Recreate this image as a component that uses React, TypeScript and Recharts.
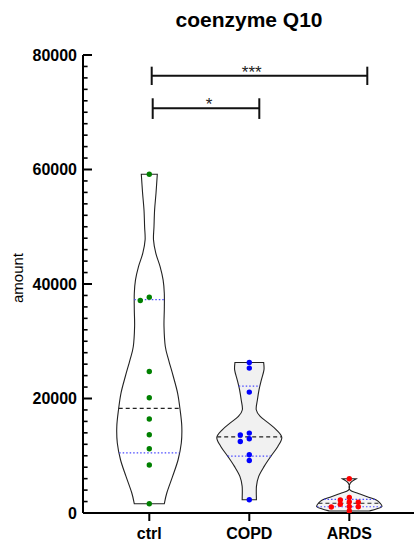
import React from 'react';
import { ComposedChart, Scatter, XAxis, YAxis, ReferenceLine } from 'recharts';

// ---------- data ----------
const groups = ['ctrl', 'COPD', 'ARDS'];
const groupColors = ['#008000', '#0000ff', '#ff0000'];
const violinFills = ['#ffffff', '#f1f1f1', '#f4f4f4'];

const ctrlValues = [59170, 37700, 37110, 24720, 20130, 16410, 13670, 11220, 8380, 1620];
const copdValues = [26290, 25310, 21120, 13960, 13620, 12970, 12500, 10180, 9180, 2320];
const ardsValues = [5990, 2720, 2270, 1950, 1880, 1520, 1150, 1100, 1050, 350];

// violin density profiles (levels ascending, relative density at each level)
const ctrlProfileLevels = [1620, 3490, 6390, 9300, 12220, 15120, 18030, 20950, 23840, 26760, 29080, 32570, 35490, 38400, 40720, 43050, 45380, 47710, 50030, 52940, 55860, 59170];
const ctrlProfileDensity = [15, 17.5, 23.3, 28.8, 32, 32.5, 30.8, 28.3, 24, 19.3, 16, 14.7, 15, 15, 13.8, 10.8, 6.5, 4.2, 4.7, 5.3, 6.7, 8];
const copdProfileLevels = [2320, 4650, 6390, 8140, 9890, 11630, 13200, 14540, 15700, 16870, 18030, 19780, 21520, 23270, 25010, 26290];
const copdProfileDensity = [7.2, 7.2, 9.5, 15, 21.7, 28.8, 32.8, 27.3, 19.5, 11, 7, 8.2, 9.8, 12.2, 14.8, 14.5];
const ardsProfileLevels = [350, 700, 1100, 1680, 2270, 2850, 3420, 4010, 5170, 5990];
const ardsProfileDensity = [20, 27, 32.5, 31, 27, 18, 9, 0.8, 0.8, 7];

const yTicks = [0, 20000, 40000, 60000, 80000];
const yMinorStep = 2000;
const yMax = 80000;

const comparisons = [
  { label: '***', x1: 1.024, x2: 3.18, y: 76390, capLow: 74760, capHigh: 77960, labelX: 2.024 },
  { label: '*', x1: 1.034, x2: 2.1, y: 70700, capLow: 68830, capHigh: 72440, labelX: 1.597 },
];

// ---------- layout constants ----------
const FONT = '"Liberation Sans", Arial, Helvetica, sans-serif';
const X_DOMAIN: [number, number] = [0.337, 3.647];
const HALF_WIDTH = 0.325; // max violin half width, in category units
const DOT_STEP = 0.09; // horizontal step between dot columns, category units
const DOT_GAP = 650; // min vertical separation in a column, value units

const groupValues = [ctrlValues, copdValues, ardsValues];
const profiles = [
  { levels: ctrlProfileLevels, density: ctrlProfileDensity },
  { levels: copdProfileLevels, density: copdProfileDensity },
  { levels: ardsProfileLevels, density: ardsProfileDensity },
];

function quantile(vals: number[], p: number) {
  const s = [...vals].sort((a, b) => a - b);
  const pos = (s.length + 1) * p;
  const lo = Math.floor(pos);
  const frac = pos - lo;
  if (lo < 1) return s[0];
  if (lo >= s.length) return s[s.length - 1];
  return s[lo - 1] + frac * (s[lo] - s[lo - 1]);
}

function widthAt(profile: { levels: number[]; density: number[] }, v: number) {
  const { levels, density } = profile;
  const max = Math.max(...density);
  if (v <= levels[0]) return (density[0] / max) * HALF_WIDTH;
  for (let i = 0; i < levels.length - 1; i++) {
    if (v >= levels[i] && v <= levels[i + 1]) {
      const t = (v - levels[i]) / (levels[i + 1] - levels[i]);
      return ((density[i] + t * (density[i + 1] - density[i])) / max) * HALF_WIDTH;
    }
  }
  return (density[density.length - 1] / max) * HALF_WIDTH;
}

function violinOutline(profile: { levels: number[]; density: number[] }, center: number) {
  const max = Math.max(...profile.density);
  const right = profile.levels.map((v, i) => ({ x: center + (profile.density[i] / max) * HALF_WIDTH, y: v }));
  const left = profile.levels
    .map((v, i) => ({ x: center - (profile.density[i] / max) * HALF_WIDTH, y: v }))
    .reverse();
  return [...right, ...left];
}

function swarm(values: number[], center: number) {
  const sorted = [...values].sort((a, b) => b - a);
  const placed: { v: number; k: number }[] = [];
  const order = [0, -1, 1, -2, 2, -3, 3];
  return sorted.map((v) => {
    let k = 0;
    for (const c of order) {
      if (!placed.some((p) => p.k === c && Math.abs(p.v - v) < DOT_GAP)) {
        k = c;
        break;
      }
    }
    placed.push({ v, k });
    return { x: center + k * DOT_STEP, y: v };
  });
}

type Pt = { x: number; y: number };
function smooth(pts: Pt[]) {
  let d = '';
  for (let i = 0; i < pts.length - 1; i++) {
    const p0 = pts[Math.max(i - 1, 0)];
    const p1 = pts[i];
    const p2 = pts[i + 1];
    const p3 = pts[Math.min(i + 2, pts.length - 1)];
    const c1x = p1.x + (p2.x - p0.x) / 6;
    const c1y = p1.y + (p2.y - p0.y) / 6;
    const c2x = p2.x - (p3.x - p1.x) / 6;
    const c2y = p2.y - (p3.y - p1.y) / 6;
    d += ` C${c1x},${c1y} ${c2x},${c2y} ${p2.x},${p2.y}`;
  }
  return d;
}

function violinPath(fill: string) {
  return (props: any) => {
    const pts: Pt[] = props.points || [];
    if (pts.length < 4) return <g />;
    const n = pts.length / 2;
    const right = pts.slice(0, n);
    const left = pts.slice(n);
    const d = `M${right[0].x},${right[0].y}` + smooth(right) + ` L${left[0].x},${left[0].y}` + smooth(left) + ' Z';
    return <path d={d} fill={fill} stroke="#222" strokeWidth={1.1} />;
  };
}

const noShape = () => <g />;

export default function App() {
  const minorTicks: number[] = [];
  for (let v = yMinorStep; v < yMax; v += yMinorStep) if (!yTicks.includes(v)) minorTicks.push(v);

  const statLines: { key: string; data: Pt[]; kind: 'median' | 'quart' }[] = [];
  groups.forEach((g, i) => {
    const vals = groupValues[i];
    const center = i + 1;
    [
      { p: 0.25, kind: 'quart' as const },
      { p: 0.5, kind: 'median' as const },
      { p: 0.75, kind: 'quart' as const },
    ].forEach(({ p, kind }) => {
      const v = quantile(vals, p);
      const hw = widthAt(profiles[i], v);
      statLines.push({ key: `${g}-${p}`, kind, data: [{ x: center - hw, y: v }, { x: center + hw, y: v }] });
    });
  });

  return (
    <div style={{ position: 'absolute', left: 0, top: 0, width: 414, height: 544, background: '#fff' }}>
      <ComposedChart width={414} height={544} margin={{ top: 55, right: 0, bottom: 0, left: 0 }}>
        <XAxis
          type="number"
          dataKey="x"
          domain={X_DOMAIN}
          ticks={[1, 2, 3]}
          interval={0}
          allowDataOverflow
          tickFormatter={(v: number) => groups[Math.round(v) - 1]}
          axisLine={{ stroke: '#000', strokeWidth: 2 }}
          tickLine={{ stroke: '#000', strokeWidth: 2 }}
          tickSize={8}
          tickMargin={7}
          height={31}
          tick={{ fill: '#000', fontSize: 16, fontWeight: 'bold', fontFamily: FONT }}
        />
        <YAxis
          type="number"
          dataKey="y"
          domain={[0, yMax]}
          ticks={yTicks}
          interval={0}
          allowDataOverflow
          width={83}
          axisLine={{ stroke: '#000', strokeWidth: 2 }}
          tickLine={false}
          tickSize={0}
          tickMargin={6}
          tick={{ fill: '#000', fontSize: 16, fontWeight: 'bold', fontFamily: FONT }}
        />
        {minorTicks.map((v) => (
          <ReferenceLine key={`mt-${v}`} segment={[{ x: X_DOMAIN[0], y: v }, { x: X_DOMAIN[0] + 0.046, y: v }]} stroke="#000" strokeWidth={1.6} />
        ))}
        {yTicks.map((v) => (
          <ReferenceLine key={`Mt-${v}`} segment={[{ x: X_DOMAIN[0], y: v }, { x: X_DOMAIN[0] + 0.09, y: v }]} stroke="#000" strokeWidth={2} />
        ))}
        {groups.map((g, i) => (
          <Scatter
            key={`violin-${g}`}
            data={violinOutline(profiles[i], i + 1)}
            shape={noShape}
            line={violinPath(violinFills[i])}
            isAnimationActive={false}
          />
        ))}
        {statLines.map((s) => (
          <Scatter
            key={`stat-${s.key}`}
            data={s.data}
            shape={noShape}
            line={
              s.kind === 'median'
                ? { stroke: '#222', strokeWidth: 1.2, strokeDasharray: '4 3' }
                : { stroke: '#4a4aff', strokeWidth: 1.2, strokeDasharray: '1.5 2' }
            }
            isAnimationActive={false}
          />
        ))}
        {groups.map((g, i) => (
          <Scatter
            key={`pts-${g}`}
            data={swarm(groupValues[i], i + 1)}
            isAnimationActive={false}
            shape={(p: any) => <circle cx={p.cx} cy={p.cy} r={2.7} fill={groupColors[i]} />}
          />
        ))}
        {comparisons.map((c, i) => (
          <ReferenceLine key={`bh-${i}`} segment={[{ x: c.x1, y: c.y }, { x: c.x2, y: c.y }]} stroke="#111" strokeWidth={2} />
        ))}
        {comparisons.map((c, i) => (
          <ReferenceLine key={`bl-${i}`} segment={[{ x: c.x1, y: c.capLow }, { x: c.x1, y: c.capHigh }]} stroke="#111" strokeWidth={2} />
        ))}
        {comparisons.map((c, i) => (
          <ReferenceLine key={`br-${i}`} segment={[{ x: c.x2, y: c.capLow }, { x: c.x2, y: c.capHigh }]} stroke="#111" strokeWidth={2} />
        ))}
        <Scatter
          data={comparisons.map((c) => ({ x: c.labelX, y: c.y, label: c.label }))}
          isAnimationActive={false}
          shape={(p: any) => (
            <text x={p.cx} y={p.cy + 2} textAnchor="middle" fontSize={17} fontFamily={FONT} fill="#222">
              {p.payload.label}
            </text>
          )}
        />
      </ComposedChart>
      <svg width={414} height={544} style={{ position: 'absolute', left: 0, top: 0, pointerEvents: 'none' }}>
        <text x={249} y={27} textAnchor="middle" fontSize={21} fontWeight="bold" fontFamily={FONT} fill="#000">
          coenzyme Q10
        </text>
        <text transform="translate(23,278) rotate(-90)" textAnchor="middle" fontSize={15} fontFamily={FONT} fill="#000">
          amount
        </text>
      </svg>
    </div>
  );
}
